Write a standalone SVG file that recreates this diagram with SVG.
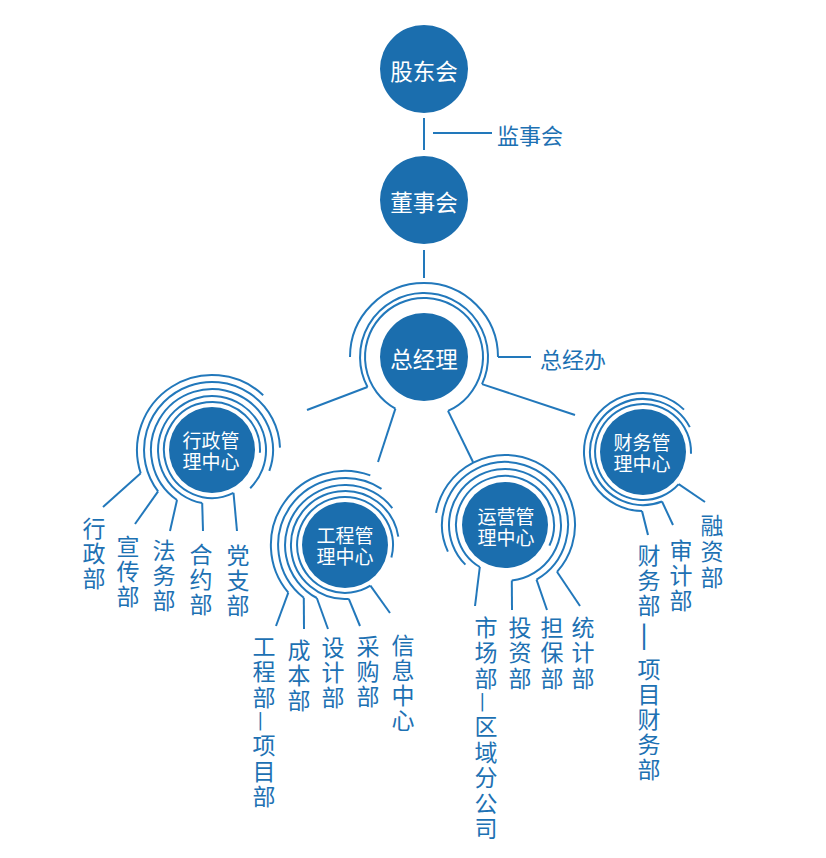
<svg xmlns="http://www.w3.org/2000/svg" width="826" height="858" viewBox="0 0 826 858">
<style>
.node{fill:#1b6eae}
.nt{fill:#fff;font-family:"Noto Sans CJK SC","Noto Sans",sans-serif;text-anchor:middle;dominant-baseline:central}
.big{font-size:22.5px}
.hub{font-size:19px}
.ring{fill:none;stroke:#2278bb;stroke-width:2}
.con{fill:none;stroke:#2278bb;stroke-width:2}
.lbl{fill:#1d71b3;font-family:"Noto Sans CJK SC","Noto Sans",sans-serif;font-size:23px;writing-mode:vertical-rl;letter-spacing:2px}
.w{letter-spacing:2.5px}
.side{fill:#1d71b3;font-family:"Noto Sans CJK SC","Noto Sans",sans-serif;font-size:22px;dominant-baseline:central}
</style>
<rect width="826" height="858" fill="#fff"/>

<g id="connectors">
  <line class="con" x1="424" y1="118" x2="424" y2="150"/>
  <line class="con" x1="433" y1="133" x2="492" y2="133"/>
  <line class="con" x1="424" y1="250" x2="424" y2="278"/>
  <line class="con" x1="498" y1="357" x2="531" y2="357"/>
  <line class="con" x1="367.5" y1="387" x2="307" y2="410"/>
  <line class="con" x1="395.4" y1="408.6" x2="378" y2="462"/>
  <line class="con" x1="448" y1="410.9" x2="473" y2="462"/>
  <line class="con" x1="482" y1="384.1" x2="575" y2="415"/>
  <line class="con" x1="140.7" y1="473.2" x2="103" y2="507"/>
  <line class="con" x1="158.1" y1="491.4" x2="135" y2="524"/>
  <line class="con" x1="177" y1="500" x2="170" y2="531"/>
  <line class="con" x1="202.2" y1="503.1" x2="203" y2="531"/>
  <line class="con" x1="233.5" y1="492.9" x2="237" y2="531"/>
  <line class="con" x1="288.3" y1="592.6" x2="276" y2="626"/>
  <line class="con" x1="303.8" y1="597.8" x2="304" y2="629"/>
  <line class="con" x1="316.8" y1="598" x2="328" y2="629"/>
  <line class="con" x1="348.8" y1="598.9" x2="360" y2="626"/>
  <line class="con" x1="370.4" y1="585.7" x2="390" y2="613"/>
  <line class="con" x1="479.8" y1="567" x2="475" y2="606"/>
  <line class="con" x1="511.8" y1="580.6" x2="512" y2="610"/>
  <line class="con" x1="536.5" y1="579.6" x2="547" y2="610"/>
  <line class="con" x1="557" y1="571.8" x2="580" y2="606"/>
  <line class="con" x1="642" y1="511" x2="648" y2="535"/>
  <line class="con" x1="662" y1="501.5" x2="673" y2="525"/>
  <line class="con" x1="678.7" y1="484.1" x2="705" y2="502"/>
</g>

<g id="n-gudonghui">
  <circle class="node" cx="424" cy="69" r="44"/>
  <text class="nt big" x="424" y="70">股东会</text>
</g>
<g id="n-jianshihui">
  <text class="side" x="497" y="134">监事会</text>
</g>
<g id="n-dongshihui">
  <circle class="node" cx="424" cy="200" r="44"/>
  <text class="nt big" x="424" y="201">董事会</text>
</g>
<g id="n-zongjingli">
  <path class="ring" d="M350,357 A74,74 0 0 1 498,357"/>
  <path class="ring" d="M367.5,387 A64,64 0 1 1 482,384.1"/>
  <path class="ring" d="M395.4,408.6 A59,59 0 1 1 448,410.9"/>
  <circle class="node" cx="424" cy="357" r="44"/>
  <text class="nt big" x="424" y="358">总经理</text>
</g>
<g id="n-zongjingban">
  <text class="side" x="540" y="358">总经办</text>
</g>

<g id="n-xingzheng">
  <path class="ring" d="M140.7,473.2 A75,75 0 0 1 263.2,395.2"/>
  <path class="ring" d="M158.1,491.4 A68,68 0 1 1 280,447.6"/>
  <path class="ring" d="M177,500 A61,61 0 1 1 269.3,470.9"/>
  <path class="ring" d="M202.2,503.1 A54,54 0 1 1 250.2,488.2"/>
  <path class="ring" d="M233.5,492.9 A48,48 0 1 1 259.9,452.8"/>
  <circle class="node" cx="212" cy="450" r="43"/>
  <text class="nt hub"><tspan x="211" y="439">行政管</tspan><tspan x="211" y="460">理中心</tspan></text>
</g>
<g id="n-gongcheng">
  <path class="ring" d="M288.3,592.6 A74,74 0 0 1 370.3,475.4"/>
  <path class="ring" d="M303.8,597.8 A67,67 0 0 1 381.5,488.8"/>
  <path class="ring" d="M316.8,598 A60,60 0 1 1 392.3,508.1"/>
  <path class="ring" d="M348.8,598.9 A54,54 0 1 1 398.3,536.6"/>
  <path class="ring" d="M370.4,585.7 A48,48 0 1 1 391.4,557.4"/>
  <circle class="node" cx="345" cy="545" r="43"/>
  <text class="nt hub"><tspan x="345" y="534">工程管</tspan><tspan x="345" y="555">理中心</tspan></text>
</g>
<g id="n-yunying">
  <path class="ring" d="M557,571.8 A70,70 0 1 0 436.1,512.8"/>
  <path class="ring" d="M536.5,579.6 A63,63 0 1 0 447.9,551.6"/>
  <path class="ring" d="M511.8,580.6 A56,56 0 1 0 465.4,564.6"/>
  <path class="ring" d="M479.8,567 A49,49 0 1 1 549.4,545.7"/>
  <circle class="node" cx="505" cy="525" r="43"/>
  <text class="nt hub"><tspan x="506" y="515">运营管</tspan><tspan x="506" y="536">理中心</tspan></text>
</g>
<g id="n-caiwu">
  <path class="ring" d="M642,511 A59,59 0 1 1 684,409.6"/>
  <path class="ring" d="M662,501.5 A53,53 0 1 1 689.8,427.1"/>
  <path class="ring" d="M678.7,484.1 A48,48 0 1 1 691,453.7"/>
  <circle class="node" cx="643" cy="452" r="43"/>
  <text class="nt hub"><tspan x="642" y="441">财务管</tspan><tspan x="642" y="462">理中心</tspan></text>
</g>

<g id="l-xingzhengbu"><text class="lbl" x="94" y="516.5">行政部</text></g>
<g id="l-xuanchuanbu"><text class="lbl" x="128" y="534.5">宣传部</text></g>
<g id="l-fawubu"><text class="lbl" x="164" y="538.5">法务部</text></g>
<g id="l-heyuebu"><text class="lbl" x="201" y="542.5">合约部</text></g>
<g id="l-dangzhibu"><text class="lbl" x="238" y="543.5">党支部</text></g>

<g id="l-gongchengbu"><text class="lbl w" x="264" y="634.5">工程部—项目部</text></g>
<g id="l-chengbenbu"><text class="lbl" x="299" y="638.5">成本部</text></g>
<g id="l-shejibu"><text class="lbl" x="333" y="635.5">设计部</text></g>
<g id="l-caigoubu"><text class="lbl" x="368" y="634.5">采购部</text></g>
<g id="l-xinxizhongxin"><text class="lbl" x="403" y="633.5">信息中心</text></g>

<g id="l-shichangbu"><text class="lbl w" x="486" y="615.5">市场部—区域分公司</text></g>
<g id="l-touzibu"><text class="lbl w" x="520" y="615.5">投资部</text></g>
<g id="l-danbaobu"><text class="lbl w" x="552" y="615.5">担保部</text></g>
<g id="l-tongjibu"><text class="lbl w" x="583" y="615.5">统计部</text></g>

<g id="l-rongzibu"><text class="lbl" x="712" y="513.5" style="letter-spacing:3px">融资部</text></g>
<g id="l-shenjibu"><text class="lbl" x="681" y="538.5">审计部</text></g>
<g id="l-caiwubu"><text class="lbl" x="649" y="543.5">财务部<tspan dy="3.5" style="font-size:33px">—</tspan><tspan dy="3.5">项目财务部</tspan></text></g>
</svg>
